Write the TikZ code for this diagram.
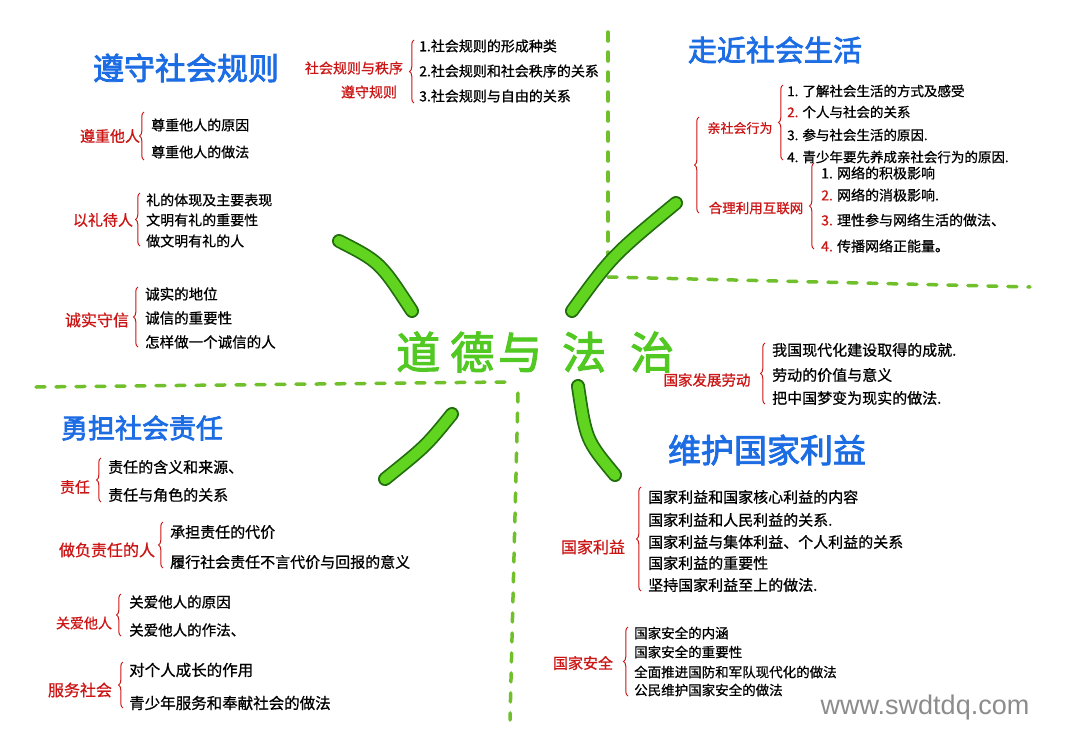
\documentclass[tikz,border=0pt]{standalone}
\usepackage{fontspec}
\usetikzlibrary{decorations.pathreplacing}
\newfontfamily\cjk[FakeBold=0.8]{Noto Sans CJK SC}
\newfontfamily\cjkb[FakeBold=2.5]{Noto Sans CJK SC}
\newfontfamily\wmfont{Liberation Sans}
\definecolor{tblue}{RGB}{28,108,228}
\definecolor{lred}{RGB}{204,22,22}
\definecolor{ggreen}{RGB}{96,212,30}
\definecolor{gdark}{RGB}{34,110,14}
\definecolor{gdash}{RGB}{112,192,44}
\definecolor{ctext}{RGB}{82,200,34}
\tikzset{
  ttl/.style={font=\cjkb\fontsize{#1}{#1}\selectfont, text=tblue, inner sep=0},
  lab/.style={font=\cjk\fontsize{#1}{#1}\selectfont, text=lred, inner sep=0},
  itm/.style={font=\cjk\fontsize{#1}{#1}\selectfont, text=black, anchor=west, inner sep=0},
  brc/.style={draw=lred, line width=1pt, decorate, decoration={brace, amplitude=4.5pt}},
  gbranch/.style={draw=gdark, line width=14pt, line cap=round, postaction={draw=ggreen, line width=10.5pt, line cap=round}},
  gdashed/.style={draw=gdash, line width=3.5pt, dash pattern=on 9pt off 11pt, line cap=round},
}
\begin{document}
\begin{tikzpicture}[x=1pt,y=-1pt]
\useasboundingbox (0,0) rectangle (1080,753);
\fill[white] (0,0) rectangle (1080,753);

% dashed separators
\coordinate (dv1a) at (608,32);   \coordinate (dv1b) at (608,272);
\coordinate (dh1a) at (608,277);  \coordinate (dh1b) at (1030,287);
\coordinate (dh2a) at (36,387);   \coordinate (dh2b) at (505,382);
\coordinate (dv2a) at (518,393);  \coordinate (dv2b) at (510,720);
\draw[gdashed] (dv1a) -- (dv1b);
\draw[gdashed] (dh1a) -- (dh1b);
\draw[gdashed] (dh2a) -- (dh2b);
\draw[gdashed] (dv2a) -- (dv2b);

% central title
\node[font=\cjkb\fontsize{44}{44}\selectfont, text=ctext, inner sep=0, anchor=west] (center) at (396,352)
  {道\hspace{10pt}德\hspace{4pt}与\hspace{20pt}法\hspace{24pt}治};

% green branches
\coordinate (b1a) at (339,241); \coordinate (b1b) at (412,311);
\coordinate (b2a) at (572,311); \coordinate (b2b) at (676,203);
\coordinate (b3a) at (452,414); \coordinate (b3b) at (385,479);
\coordinate (b4a) at (578,386); \coordinate (b4b) at (615,475);
\draw[gbranch] (b1a) .. controls (380,262) .. (b1b);
\draw[gbranch] (b2a) .. controls (612,256) .. (b2b);
\draw[gbranch] (b3a) .. controls (426,446) .. (b3b);
\draw[gbranch] (b4a) .. controls (586,440) .. (b4b);

% ===== top-left: 遵守社会规则 =====
\node[ttl=31] (t1) at (186,68) {遵守社会规则};
\node[lab=15] (l1) at (110,136) {遵重他人};
\draw[brc] (144,160) -- (144,112);
\node[itm=14] (i11) at (151,125) {尊重他人的原因};
\node[itm=14] (i12) at (151,152) {尊重他人的做法};

\node[lab=15] (l2) at (103,220) {以礼待人};
\draw[brc] (140,246) -- (140,193);
\node[itm=14] (i21) at (146,200) {礼的体现及主要表现};
\node[itm=14] (i22) at (146,220) {文明有礼的重要性};
\node[itm=14] (i23) at (146,241) {做文明有礼的人};

\node[lab=16] (l3) at (97,320) {诚实守信};
\draw[brc] (138,347) -- (138,287);
\node[itm=14.5] (i31) at (145,294) {诚实的地位};
\node[itm=14.5] (i32) at (145,318) {诚信的重要性};
\node[itm=14.5] (i33) at (145,342) {怎样做一个诚信的人};

% ===== top-middle =====
\node[lab=14] (l4) at (354,68) {社会规则与秩序};
\node[lab=14] (l5) at (369,92) {遵守规则};
\draw[brc] (414,103) -- (414,40);
\node[itm=14] (i41) at (419,46) {1.社会规则的形成种类};
\node[itm=14] (i42) at (419,71) {2.社会规则和社会秩序的关系};
\node[itm=14] (i43) at (419,96) {3.社会规则与自由的关系};

% ===== top-right: 走近社会生活 =====
\node[ttl=29] (t2) at (775,50) {走近社会生活};
\draw[brc] (699,213) -- (699,117);
\node[lab=13] (l6) at (740,128) {亲社会行为};
\node[lab=13.5] (l7) at (756,208) {合理利用互联网};
\draw[brc] (783,160) -- (783,85);
\node[itm=13.5] (i61) at (787,91) {1. 了解社会生活的方式及感受};
\node[itm=13.5] (i62) at (787,112) {{\color{lred}2.} 个人与社会的关系};
\node[itm=13.5] (i63) at (787,135) {3. 参与社会生活的原因.};
\node[itm=13.5] (i64) at (787,157) {4. 青少年要先养成亲社会行为的原因.};
\draw[brc] (814,249) -- (814,163);
\node[itm=14] (i71) at (821,173) {1. 网络的积极影响};
\node[itm=14] (i72) at (821,195) {{\color{lred}2.} 网络的消极影响.};
\node[itm=14] (i73) at (821,220) {{\color{lred}3.} 理性参与网络生活的做法、};
\node[itm=14] (i74) at (821,246) {{\color{lred}4.} 传播网络正能量。};

% ===== middle-right =====
\node[lab=14.5] (l8) at (707,380) {国家发展劳动};
\draw[brc] (765,404) -- (765,343);
\node[itm=15] (i81) at (772,350) {我国现代化建设取得的成就.};
\node[itm=15] (i82) at (772,375) {劳动的价值与意义};
\node[itm=15] (i83) at (772,398) {把中国梦变为现实的做法.};

% ===== bottom-right: 维护国家利益 =====
\node[ttl=33] (t4) at (767,450) {维护国家利益};
\node[lab=16] (l9) at (593,547) {国家利益};
\draw[brc] (641,591) -- (641,487);
\node[itm=15] (i91) at (648,497) {国家利益和国家核心利益的内容};
\node[itm=15] (i92) at (648,520) {国家利益和人民利益的关系.};
\node[itm=15] (i93) at (648,542) {国家利益与集体利益、个人利益的关系};
\node[itm=15] (i94) at (648,563) {国家利益的重要性};
\node[itm=15] (i95) at (648,585) {坚持国家利益至上的做法.};
\node[lab=15] (l10) at (583,663) {国家安全};
\draw[brc] (628,696) -- (628,627);
\node[itm=13.5] (i101) at (634,633) {国家安全的内涵};
\node[itm=13.5] (i102) at (634,652) {国家安全的重要性};
\node[itm=13.5] (i103) at (634,672) {全面推进国防和军队现代化的做法};
\node[itm=13.5] (i104) at (634,690) {公民维护国家安全的做法};

% ===== bottom-left: 勇担社会责任 =====
\node[ttl=27] (t3) at (142,428) {勇担社会责任};
\node[lab=15] (l11) at (75,487) {责任};
\draw[brc] (101,502) -- (101,458);
\node[itm=15] (i111) at (108,467) {责任的含义和来源、};
\node[itm=15] (i112) at (108,495) {责任与角色的关系};
\node[lab=16] (l12) at (107,550) {做负责任的人};
\draw[brc] (163,568) -- (163,522);
\node[itm=15] (i121) at (170,532) {承担责任的代价};
\node[itm=15] (i122) at (170,562) {履行社会责任不言代价与回报的意义};
\node[lab=14] (l13) at (84,623) {关爱他人};
\draw[brc] (121,636) -- (121,594);
\node[itm=14.5] (i131) at (129,602) {关爱他人的原因};
\node[itm=14.5] (i132) at (129,630) {关爱他人的作法、};
\node[lab=16] (l14) at (80,690) {服务社会};
\draw[brc] (123,708) -- (123,662);
\node[itm=15.5] (i141) at (129,670) {对个人成长的作用};
\node[itm=15.5] (i142) at (129,703) {青少年服务和奉献社会的做法};

% watermark
\node[font=\wmfont\fontsize{27}{27}\selectfont, text=black!45, inner sep=0] (wm) at (925,708) {www.swdtdq.com};
\end{tikzpicture}
\end{document}
